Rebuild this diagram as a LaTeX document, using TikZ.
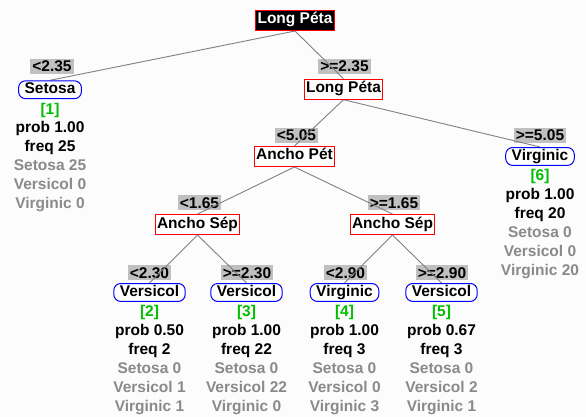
\documentclass[tikz,border=0pt]{standalone}
\usepackage{fontspec}
\setmainfont{Liberation Sans}
\definecolor{bgc}{RGB}{252,252,252}
\definecolor{lbl}{RGB}{192,192,192}
\definecolor{lnk}{RGB}{128,128,128}
\definecolor{gry}{RGB}{138,138,138}
\definecolor{grn}{RGB}{0,190,0}
\pgfdeclarelayer{labels}
\pgfdeclarelayer{links}
\pgfsetlayers{labels,links,main}
% Six lines of statistics printed under a leaf
\newcommand\leafinfo[7]{%
  \path (#1.base) ++(0,20) node[infotext,text=grn] (#1-id) {[#2]}
    ++(0,18.9) node[infotext] (#1-prob) {prob #3}
    ++(0,18.9) node[infotext] (#1-freq) {freq #4}
    ++(0,18.9) node[infotext,text=gry] (#1-set) {Setosa #5}
    ++(0,18.9) node[infotext,text=gry] (#1-ver) {Versicol #6}
    ++(0,18.9) node[infotext,text=gry] (#1-vir) {Virginic #7};}
\begin{document}
\begin{tikzpicture}[x=1pt,y=-1pt,
  every node/.style={font=\fontsize{15.5}{18.9}\selectfont\bfseries},
  split/.style={draw=red, fill=white, line width=1pt, anchor=base,
    text height=12pt, text depth=5pt, inner xsep=2pt, inner ysep=1.5pt},
  rootbox/.style={split, fill=black, text=white},
  leaf/.style={draw=blue, fill=white, rounded corners=7pt, line width=1pt,
    anchor=base, text height=12pt, text depth=3.5pt, inner xsep=6pt, inner ysep=1.2pt},
  cond/.style={fill=lbl, anchor=base, text height=12pt, text depth=0.6pt,
    inner xsep=2pt, inner ysep=1.2pt},
  link/.style={draw=lnk, line width=0.9pt},
  infotext/.style={anchor=base, inner sep=0pt}]
\useasboundingbox (0,0) rectangle (586,417);

% decision and leaf nodes
\node[rootbox] (root) at (295,24) {Long Péta};
\node[leaf]  (n1)   at (50,94)      {Setosa};
\node[split] (lp)   at (343.5,92.7) {Long Péta};
\node[split] (apet) at (294.5,160)  {Ancho Pét};
\node[leaf]  (n6)   at (540,160.7)  {Virginic};
\node[split] (asL)  at (197.5,228)  {Ancho Sép};
\node[split] (asR)  at (392.5,228)  {Ancho Sép};
\node[leaf]  (n2)   at (149.5,296.7) {Versicol};
\node[leaf]  (n3)   at (246.5,296.7) {Versicol};
\node[leaf]  (n4)   at (344.5,296.7) {Virginic};
\node[leaf]  (n5)   at (441.5,296.7) {Versicol};

% leaf statistics
\leafinfo{n1}{1}{1.00}{25}{25}{0}{0}
\leafinfo{n6}{6}{1.00}{20}{0}{0}{20}
\leafinfo{n2}{2}{0.50}{2}{0}{1}{1}
\leafinfo{n3}{3}{1.00}{22}{0}{22}{0}
\leafinfo{n4}{4}{1.00}{3}{0}{0}{3}
\leafinfo{n5}{5}{0.67}{3}{0}{2}{1}

% split conditions, under the links
\begin{pgfonlayer}{labels}
  \fill[bgc] (0,0) rectangle (586,417);
  \node[cond] (c1)  at (52,72)       {<2.35};
  \node[cond] (c2)  at (344.5,72)    {>=2.35};
  \node[cond] (c3)  at (296.5,141)   {<5.05};
  \node[cond] (c4)  at (540,141)     {>=5.05};
  \node[cond] (c5)  at (199.5,208.3) {<1.65};
  \node[cond] (c6)  at (394,208.3)   {>=1.65};
  \node[cond] (c7)  at (149.5,278.3) {<2.30};
  \node[cond] (c8)  at (247,278.3)   {>=2.30};
  \node[cond] (c9)  at (345.5,278.3) {<2.90};
  \node[cond] (c10) at (442,278.3)   {>=2.90};
\end{pgfonlayer}

% tree links
\begin{pgfonlayer}{links}
  \draw[link] (root.south) -- (n1.north);
  \draw[link] (root.south) -- (lp.north);
  \draw[link] (lp.south)   -- (apet.north);
  \draw[link] (lp.south)   -- (n6.north);
  \draw[link] (apet.south) -- (asL.north);
  \draw[link] (apet.south) -- (asR.north);
  \draw[link] (asL.south)  -- (n2.north);
  \draw[link] (asL.south)  -- (n3.north);
  \draw[link] (asR.south)  -- (n4.north);
  \draw[link] (asR.south)  -- (n5.north);
\end{pgfonlayer}
\end{tikzpicture}
\end{document}
